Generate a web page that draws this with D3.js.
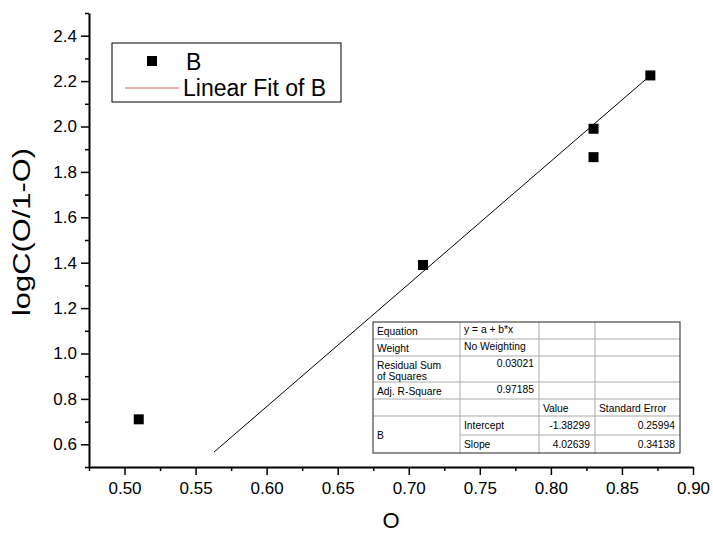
<!DOCTYPE html>
<html>
<head>
<meta charset="utf-8">
<script src="https://cdn.jsdelivr.net/npm/d3@7"></script>
<style>
  body { margin: 0; background: #fff; }
  svg { font-family: Arial, "Liberation Sans", sans-serif; }
  .axis path, .axis line { stroke: #000; }
  .axis text { font-size: 17px; fill: #000; }
  .tbl text { font-size: 10.3px; fill: #000; }
</style>
</head>
<body>
<script>
(function(){

//data
var oValues = [0.51, 0.71, 0.83, 0.83, 0.87];
var logValues = [0.71, 1.39, 1.99, 1.865, 2.225];

//drawn fit line end points
var fitX = [0.563, 0.87];
var fitY = [0.566, 2.225];

//tick values
var xMajor = [0.50, 0.55, 0.60, 0.65, 0.70, 0.75, 0.80, 0.85, 0.90];
var xMinor = [0.475, 0.525, 0.575, 0.625, 0.675, 0.725, 0.775, 0.825, 0.875];
var yMajor = [0.6, 0.8, 1.0, 1.2, 1.4, 1.6, 1.8, 2.0, 2.2, 2.4];
var yMinor = [0.5, 0.7, 0.9, 1.1, 1.3, 1.5, 1.7, 1.9, 2.1, 2.3, 2.5];

//fit result table, one array per row
var tableRows = [
  ["Equation", "y = a + b*x", "", ""],
  ["Weight", "No Weighting", "", ""],
  ["Residual Sum|of Squares", "0.03021", "", ""],
  ["Adj. R-Square", "0.97185", "", ""],
  ["", "", "Value", "Standard Error"],
  ["B", "Intercept", "-1.38299", "0.25994"],
  ["", "Slope", "4.02639", "0.34138"]
];

var width = 713,
    height = 533;

var svg = d3.select("body")
    .append("svg")
    .attr("width", width)
    .attr("height", height);

var x = d3.scaleLinear().domain([0.475, 0.9]).range([89, 693]);
var y = d3.scaleLinear().domain([0.5, 2.5]).range([467, 13]);

//x axis, minor ticks first then majors with labels
svg.append("g")
    .attr("class", "axis")
    .attr("transform", "translate(0," + y(0.5) + ")")
    .call(d3.axisBottom(x).tickValues(xMinor).tickSize(4).tickFormat(""))
    .call(function(g){ g.select(".domain").remove(); })
    .selectAll("line").attr("stroke-width", 1.5);

var xAxis = svg.append("g")
    .attr("class", "axis")
    .attr("transform", "translate(0," + y(0.5) + ")")
    .call(d3.axisBottom(x).tickValues(xMajor).tickSize(8).tickSizeOuter(0)
        .tickPadding(7).tickFormat(d3.format(".2f")));
xAxis.select(".domain").attr("stroke-width", 2);
xAxis.selectAll("line").attr("stroke-width", 1.5);

//y axis
svg.append("g")
    .attr("class", "axis")
    .attr("transform", "translate(" + x(0.475) + ",0)")
    .call(d3.axisLeft(y).tickValues(yMinor).tickSize(4).tickFormat(""))
    .call(function(g){ g.select(".domain").remove(); })
    .selectAll("line").attr("stroke-width", 1.5);

var yAxis = svg.append("g")
    .attr("class", "axis")
    .attr("transform", "translate(" + x(0.475) + ",0)")
    .call(d3.axisLeft(y).tickValues(yMajor).tickSize(8).tickSizeOuter(0)
        .tickPadding(4).tickFormat(d3.format(".1f")));
yAxis.select(".domain").attr("stroke-width", 2);
yAxis.selectAll("line").attr("stroke-width", 1.5);

//axis titles
svg.append("text")
    .attr("x", (x.range()[0] + x.range()[1]) / 2)
    .attr("y", 528)
    .attr("text-anchor", "middle")
    .style("font-size", "22px")
    .text("O");

//y title looks stretched along its length in the original
svg.append("text")
    .attr("transform", "translate(30,232) rotate(-90)")
    .attr("text-anchor", "middle")
    .attr("textLength", 168)
    .attr("lengthAdjust", "spacingAndGlyphs")
    .style("font-size", "23px")
    .text("logC(O/1-O)");

//fit line
svg.append("line")
    .attr("x1", x(fitX[0])).attr("y1", y(fitY[0]))
    .attr("x2", x(fitX[1])).attr("y2", y(fitY[1]))
    .attr("stroke", "#000")
    .attr("stroke-width", 1);

//data points
var pts = oValues.map(function(v, i){ return [v, logValues[i]]; });
svg.selectAll(".pt")
    .data(pts)
    .enter()
    .append("rect")
    .attr("class", "pt")
    .attr("x", function(d){ return x(d[0]) - 5; })
    .attr("y", function(d){ return y(d[1]) - 5; })
    .attr("width", 10)
    .attr("height", 10)
    .attr("fill", "#000");

//legend
var legend = svg.append("g");
legend.append("rect")
    .attr("x", 112).attr("y", 43)
    .attr("width", 229).attr("height", 59)
    .attr("fill", "#fff")
    .attr("stroke", "#000")
    .attr("stroke-width", 1);
legend.append("rect")
    .attr("x", 147).attr("y", 56)
    .attr("width", 10).attr("height", 10)
    .attr("fill", "#000");
legend.append("text")
    .attr("x", 186).attr("y", 70)
    .style("font-size", "23px")
    .text("B");
legend.append("line")
    .attr("x1", 125).attr("x2", 179)
    .attr("y1", 88).attr("y2", 88)
    .attr("stroke", "#e05a5a")
    .attr("stroke-width", 1);
legend.append("text")
    .attr("x", 183).attr("y", 96)
    .style("font-size", "23px")
    .text("Linear Fit of B");

//fit table
var colX = [373, 460, 539, 595, 680];
var rowY = [322, 339, 356, 382, 399, 416, 435, 453];
var tbl = svg.append("g").attr("class", "tbl");

//inner grid lines
colX.slice(1, 4).forEach(function(cx){
    tbl.append("line")
        .attr("x1", cx).attr("x2", cx)
        .attr("y1", rowY[0]).attr("y2", rowY[7])
        .attr("stroke", "#aaa");
});
rowY.slice(1, 7).forEach(function(ry, i){
    var start = (i == 5) ? colX[1] : colX[0]; //merged B cell
    tbl.append("line")
        .attr("x1", start).attr("x2", colX[4])
        .attr("y1", ry).attr("y2", ry)
        .attr("stroke", "#aaa");
});
tbl.append("rect")
    .attr("x", colX[0]).attr("y", rowY[0])
    .attr("width", colX[4] - colX[0]).attr("height", rowY[7] - rowY[0])
    .attr("fill", "none")
    .attr("stroke", "#222");

//cell texts
var rightCells = {"0.03021": 1, "0.97185": 1, "-1.38299": 1, "0.25994": 1, "4.02639": 1, "0.34138": 1};
var highCells = {"0.03021": 1, "0.97185": 1, "y = a + b*x": 1, "No Weighting": 1};
tableRows.forEach(function(row, r){
    row.forEach(function(txt, c){
        if (txt == "") return;
        var top = rowY[r] + (highCells[txt] ? 10.5 : 12.5);
        if (r == 5 && c == 0) top = (rowY[5] + rowY[7]) / 2 + 4;
        var lines = txt.split("|");
        var right = rightCells[txt];
        lines.forEach(function(t, k){
            tbl.append("text")
                .attr("x", right ? colX[c + 1] - 5 : colX[c] + 4)
                .attr("y", top + k * 11.5)
                .attr("text-anchor", right ? "end" : "start")
                .text(t);
        });
    });
});

})();
</script>
</body>
</html>
